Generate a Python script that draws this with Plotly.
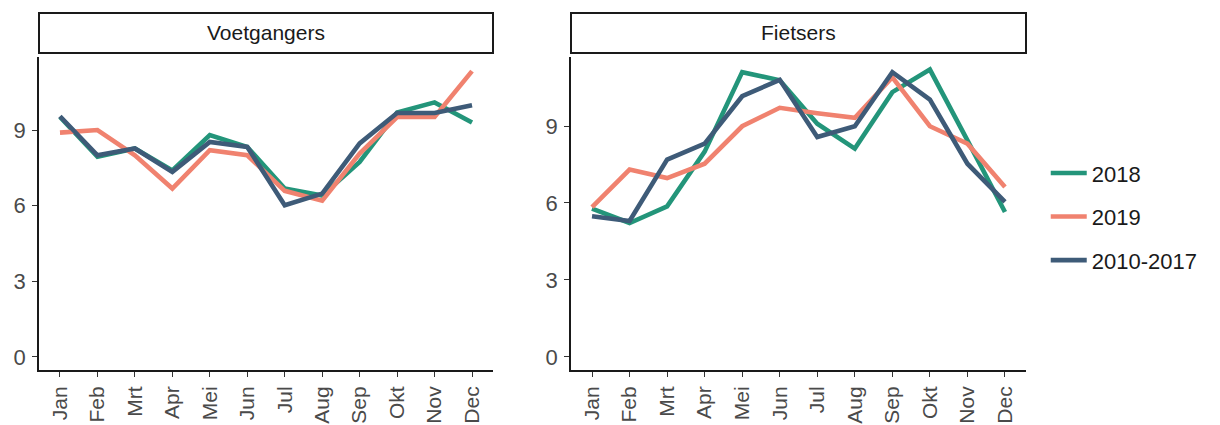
import plotly.graph_objects as go

months = ["Jan", "Feb", "Mrt", "Apr", "Mei", "Jun", "Jul", "Aug", "Sep", "Okt", "Nov", "Dec"]
series_names = ["2018", "2019", "2010-2017"]
colors = {"2018": "#23957A", "2019": "#F0826F", "2010-2017": "#3E5B78"}

voet_2018 = [9.52, 7.94, 8.27, 7.40, 8.80, 8.33, 6.68, 6.40, 7.74, 9.70, 10.10, 9.30]
voet_2019 = [8.90, 9.00, 8.00, 6.68, 8.20, 8.00, 6.59, 6.20, 8.07, 9.52, 9.52, 11.34]
voet_1017 = [9.55, 8.00, 8.27, 7.34, 8.53, 8.33, 6.02, 6.48, 8.47, 9.68, 9.68, 9.99]

fiets_2018 = [5.78, 5.22, 5.87, 8.00, 11.10, 10.78, 9.09, 8.12, 10.32, 11.20, 8.44, 5.65]
fiets_2019 = [5.84, 7.30, 6.97, 7.53, 8.99, 9.71, 9.50, 9.32, 10.90, 8.99, 8.31, 6.62]
fiets_1017 = [5.48, 5.30, 7.69, 8.31, 10.16, 10.80, 8.57, 8.99, 11.10, 10.03, 7.53, 6.04]

panels = ["Voetgangers", "Fietsers"]
y_ticks = [0, 3, 6, 9]

data = {
    "Voetgangers": {"2018": voet_2018, "2019": voet_2019, "2010-2017": voet_1017},
    "Fietsers": {"2018": fiets_2018, "2019": fiets_2019, "2010-2017": fiets_1017},
}

FONT = "Liberation Sans, Arial, Helvetica, sans-serif"
fig = go.Figure()

axes = [("x", "y"), ("x2", "y2")]
for pi, panel in enumerate(panels):
    xa, ya = axes[pi]
    for name in series_names:
        fig.add_trace(go.Scatter(
            x=months, y=data[panel][name], mode="lines", name=name,
            line=dict(color=colors[name], width=4.6),
            xaxis=xa, yaxis=ya, showlegend=(pi == 0), legendgroup=name,
        ))

W, H = 1220, 425
ml, mr, mt, mb = 39, 194, 57, 55
plot_w = W - ml - mr
left_end = (493 - ml) / plot_w
right_start = (571 - ml) / plot_w

axis_common = dict(
    showline=True, linecolor="#1a1a1a", linewidth=1.8,
    ticks="outside", ticklen=5, tickcolor="#333333", tickwidth=1.4,
    showgrid=False, zeroline=False, automargin=False,
)
xfont = dict(family=FONT, size=21, color="#4a4a4a")
yfont = dict(family=FONT, size=22, color="#4a4a4a")

fig.update_layout(
    width=W, height=H,
    margin=dict(l=ml, r=mr, t=mt, b=mb, autoexpand=False),
    plot_bgcolor="white", paper_bgcolor="white",
    xaxis=dict(domain=[0, left_end], range=[-0.56, 11.56], tickangle=-90,
               type="category", anchor="y", tickfont=xfont,
               ticklabelstandoff=1, **axis_common),
    xaxis2=dict(domain=[right_start, 1], range=[-0.56, 11.56], tickangle=-90,
                type="category", anchor="y2", tickfont=xfont,
                ticklabelstandoff=1, **axis_common),
    yaxis=dict(domain=[0, 1], range=[-0.52, 11.9], tickvals=y_ticks,
               anchor="x", ticklabelstandoff=2, tickfont=yfont, **axis_common),
    yaxis2=dict(domain=[0, 1], range=[-0.51, 11.69], tickvals=y_ticks,
                anchor="x2", ticklabelstandoff=2, tickfont=yfont, **axis_common),
    legend=dict(x=1.02, y=0.49, xanchor="left", yanchor="middle",
                font=dict(family=FONT, size=22, color="#1a1a1a"),
                tracegroupgap=12, itemwidth=36, bgcolor="rgba(0,0,0,0)"),
    showlegend=True,
)

plot_h = H - mt - mb
strip_y0 = 1 + (mt - 53) / plot_h
strip_y1 = 1 + (mt - 13) / plot_h
for pi, panel in enumerate(panels):
    x0, x1 = (0, left_end) if pi == 0 else (right_start, 1)
    fig.add_shape(type="rect", xref="paper", yref="paper",
                  x0=x0, x1=x1, y0=strip_y0, y1=strip_y1,
                  line=dict(color="#1a1a1a", width=2), fillcolor="white")
    fig.add_annotation(text=panel, xref="paper", yref="paper",
                       x=(x0 + x1) / 2, y=(strip_y0 + strip_y1) / 2,
                       showarrow=False, xanchor="center", yanchor="middle",
                       font=dict(family=FONT, size=21, color="#1a1a1a"))

fig.write_html("out.html")
